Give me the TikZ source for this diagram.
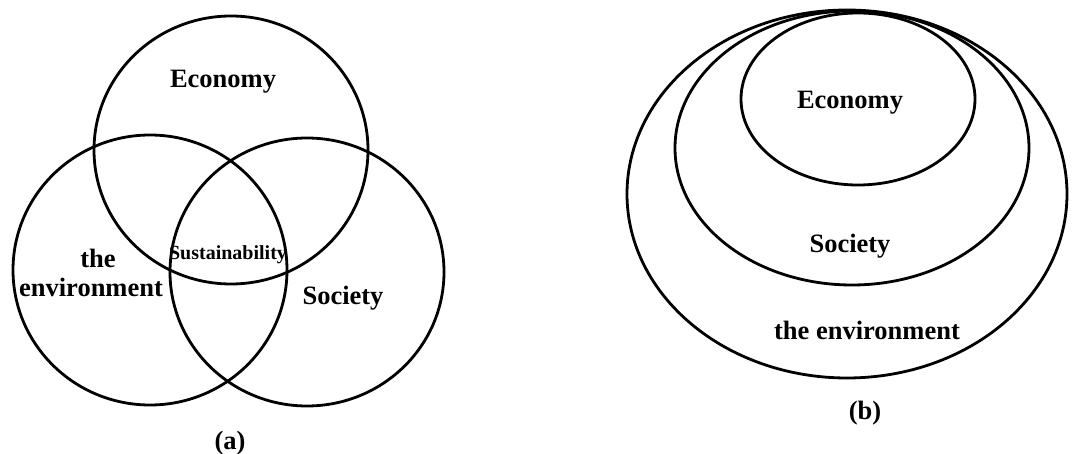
\documentclass[tikz,border=0pt]{standalone}
\usepackage{fontspec}
\setmainfont{Liberation Serif}
\begin{document}
\begin{tikzpicture}[x=1pt,y=-1pt,
  ring/.style={draw=black,line width=2.8pt},
  lbl/.style={font=\fontsize{26.5}{30}\selectfont\bfseries,inner sep=0pt},
  small/.style={font=\fontsize{20}{24}\selectfont\bfseries,inner sep=0pt}]
\useasboundingbox[fill=white] (0,0) rectangle (1073,454);
% (a) Venn diagram
\draw[ring] (231,150) ellipse [x radius=137,y radius=134];
\draw[ring] (150,270) ellipse [x radius=137,y radius=135];
\draw[ring] (307,272) ellipse [x radius=137,y radius=134];
\node[lbl] (econA) at (223,82) {Economy};
\node[lbl] (the) at (98,258) {the};
\node[lbl] (envA) at (91,287) {environment};
\node[small] (sust) at (228,255) {Sustainability};
\node[lbl] (socA) at (343,298) {Society};
\node[lbl] (capA) at (230,443) {(a)};
% (b) nested ellipses
\draw[ring] (847,194) ellipse [x radius=220,y radius=184];
\draw[ring] (852,148) ellipse [x radius=177,y radius=137];
\draw[ring] (858,99) ellipse [x radius=117,y radius=86];
\node[lbl] (econB) at (850,103) {Economy};
\node[lbl] (socB) at (850,246) {Society};
\node[lbl] (envB) at (867,330) {the environment};
\node[lbl] (capB) at (865,413) {(b)};
\end{tikzpicture}
\end{document}
